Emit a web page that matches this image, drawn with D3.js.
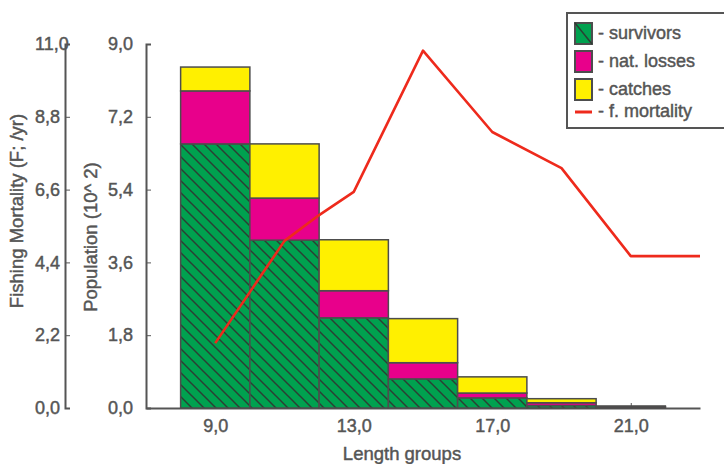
<!DOCTYPE html>
<html>
<head>
<meta charset="utf-8">
<script src="https://cdn.jsdelivr.net/npm/d3@7"></script>
<style>
  body { margin: 0; background: #fff; }
  svg { display: block; font-family: "Liberation Sans", Arial, sans-serif; }
  svg text { stroke: #555; stroke-width: 0.45px; }
  .axis text { font-size: 18px; fill: #555; }
  .axis path, .axis line { stroke: #555; }
</style>
</head>
<body>
<div class="chart"></div>
<script>
// length group centres (bars are 2 units wide)
const groups = [9, 11, 13, 15, 17, 19, 21];
const survivors = [6.53, 4.15, 2.23, 0.72, 0.25, 0.06, 0.02];
const natLosses = [1.31, 1.04, 0.67, 0.40, 0.12, 0.07, 0.01];
const catches   = [0.59, 1.34, 1.26, 1.09, 0.40, 0.10, 0.02];

// fishing mortality line (F; /yr)
const fLength = [9, 11, 12, 13, 15, 17, 19, 21, 23];
const fMort   = [1.96, 5.05, 5.83, 6.53, 10.8, 8.34, 7.25, 4.59, 4.59];

const popTicks  = [0, 1.8, 3.6, 5.4, 7.2, 9.0];
const fTicks    = [0, 2.2, 4.4, 6.6, 8.8, 11.0];
const xTicks    = [9, 13, 17, 21];
const legendLabels = ["- survivors", "- nat. losses", "- catches", "- f. mortality"];

const width = 724, height = 464;
const colors = { survivors: "#00a14f", losses: "#e8008b", catches: "#fff000", line: "#ee2a1c" };
const comma = d => d3.format(".1f")(d).replace(".", ",");

const svg = d3.select("div.chart").append("svg")
  .attr("width", width)
  .attr("height", height);

const x = d3.scaleLinear().domain([7, 23]).range([146, 700]);
const yPop = d3.scaleLinear().domain([0, 9]).range([408, 44]);
const yF = d3.scaleLinear().domain([0, 11]).range([408, 44]);

// hatch for survivors
const pat = svg.append("defs").append("pattern")
  .attr("id", "hatch")
  .attr("patternUnits", "userSpaceOnUse")
  .attr("width", 12).attr("height", 12);
pat.append("rect").attr("width", 12).attr("height", 12).attr("fill", colors.survivors);
pat.append("path")
  .attr("d", "M-1,-1 L13,13 M-1,11 L1,13 M11,-1 L13,1")
  .attr("stroke", "#2a4034").attr("stroke-width", 1.5);

// x axis (ticks point up, drawn before bars)
svg.append("g")
  .attr("class", "axis")
  .attr("transform", "translate(0,408)")
  .call(d3.axisBottom(x).tickValues(xTicks).tickSize(-5).tickSizeOuter(0).tickPadding(11).tickFormat(comma))
  .call(g => g.select(".domain").attr("stroke-width", 2));

// stacked bars
const stacked = groups.map((g, i) => {
  const s = survivors[i], l = natLosses[i], c = catches[i];
  return [
    { g, y0: 0, y1: s, fill: "url(#hatch)" },
    { g, y0: s, y1: s + l, fill: colors.losses },
    { g, y0: s + l, y1: s + l + c, fill: colors.catches }
  ];
}).flat();

svg.append("g").selectAll("rect")
  .data(stacked)
  .join("rect")
  .attr("x", d => x(d.g - 1))
  .attr("width", d => x(d.g + 1) - x(d.g - 1))
  .attr("y", d => yPop(d.y1))
  .attr("height", d => yPop(d.y0) - yPop(d.y1))
  .attr("fill", d => d.fill)
  .attr("stroke", "#4d4d4d")
  .attr("stroke-width", 1.5);

// mortality line
const line = d3.line().x(d => x(d[0])).y(d => yF(d[1]));
svg.append("path")
  .datum(fLength.map((v, i) => [v, fMort[i]]))
  .attr("d", line)
  .attr("fill", "none")
  .attr("stroke", colors.line)
  .attr("stroke-width", 2.6)
  .attr("stroke-linejoin", "round");

// population axis
svg.append("g")
  .attr("class", "axis")
  .attr("transform", "translate(146,0)")
  .call(d3.axisRight(yPop).tickValues(popTicks).tickSize(5).tickSizeOuter(5).tickFormat(comma))
  .call(g => g.select(".domain").attr("stroke-width", 2))
  .call(g => g.selectAll("text").attr("x", -38).attr("text-anchor", "start"));

// fishing mortality axis
svg.append("g")
  .attr("class", "axis")
  .attr("transform", "translate(65,0)")
  .call(d3.axisRight(yF).tickValues(fTicks).tickSize(5).tickSizeOuter(5).tickFormat(comma))
  .call(g => g.select(".domain").attr("stroke-width", 2))
  .call(g => g.selectAll("text").attr("x", -30).attr("text-anchor", "start"));

// axis titles
svg.append("text")
  .attr("transform", "translate(23,211) rotate(-90)")
  .attr("text-anchor", "middle")
  .attr("font-size", 18.5).attr("fill", "#555")
  .text("Fishing Mortality (F; /yr)");

svg.append("text")
  .attr("transform", "translate(97,237) rotate(-90)")
  .attr("text-anchor", "middle")
  .attr("font-size", 18.5).attr("fill", "#555")
  .text("Population (10^ 2)");

svg.append("text")
  .attr("x", 402).attr("y", 460)
  .attr("text-anchor", "middle")
  .attr("font-size", 18.5).attr("fill", "#555")
  .text("Length groups");

// legend
const lg = svg.append("g");
lg.append("rect")
  .attr("x", 567).attr("y", 13).attr("width", 170).attr("height", 115)
  .attr("fill", "#fff").attr("stroke", "#555").attr("stroke-width", 2);

const swFills = [colors.survivors, colors.losses, colors.catches];
lg.selectAll("rect.sw")
  .data(swFills)
  .join("rect")
  .attr("class", "sw")
  .attr("x", 575).attr("y", (d, i) => 23 + i * 28)
  .attr("width", 17).attr("height", 21)
  .attr("fill", d => d)
  .attr("stroke", "#4d4d4d").attr("stroke-width", 2);

// single diagonal in the survivors swatch
lg.append("line")
  .attr("x1", 575).attr("y1", 23).attr("x2", 592).attr("y2", 44)
  .attr("stroke", "#2a4034").attr("stroke-width", 1.5);

lg.append("line")
  .attr("x1", 575).attr("x2", 592).attr("y1", 112).attr("y2", 112)
  .attr("stroke", colors.line).attr("stroke-width", 3);

lg.selectAll("text")
  .data(legendLabels)
  .join("text")
  .attr("x", 598).attr("y", (d, i) => 39 + i * 28 - (i === 3 ? 6 : 0))
  .attr("font-size", 18).attr("fill", "#555")
  .text(d => d);
</script>
</body>
</html>
